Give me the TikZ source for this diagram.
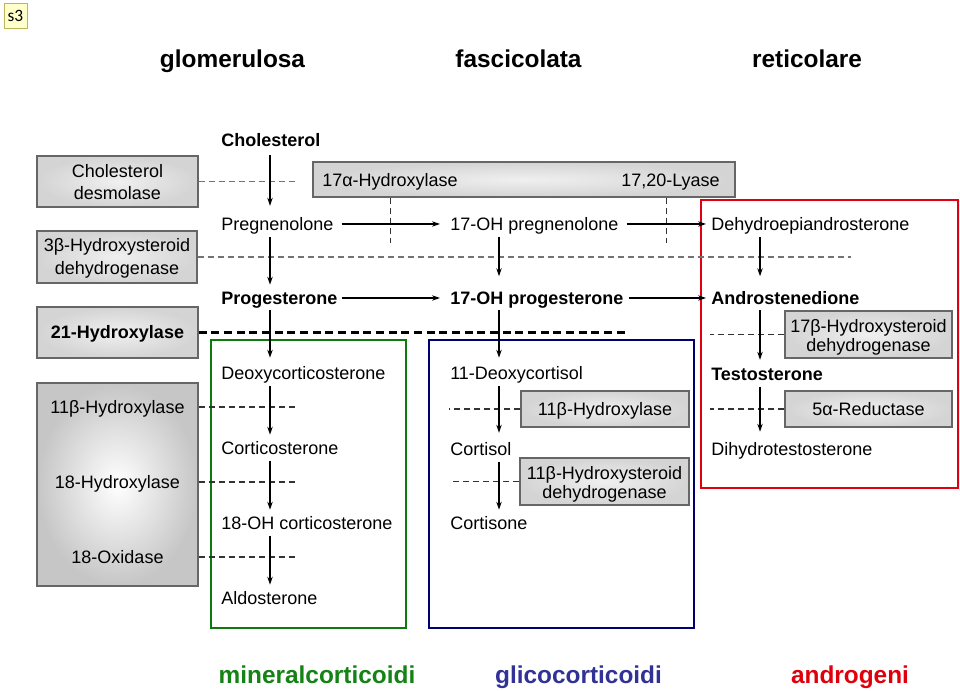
\documentclass[tikz,border=0pt]{standalone}
\usepackage{fontspec}
\setmainfont{Liberation Sans}
\newfontfamily\sthreefont{Carlito}
\usetikzlibrary{arrows.meta,fit}
\definecolor{zgreen}{RGB}{12,122,12}
\definecolor{tgreen}{RGB}{20,130,20}
\definecolor{zblue}{RGB}{0,0,115}
\definecolor{tblue}{RGB}{50,50,150}
\definecolor{zred}{RGB}{225,0,15}
\definecolor{tred}{RGB}{222,0,10}
\definecolor{sfill}{RGB}{255,255,204}
\definecolor{sdraw}{RGB}{190,180,90}
\begin{document}
\begin{tikzpicture}[x=0.75pt,y=-0.75pt,
  sp/.style={anchor=west,inner sep=0pt,text height=9.7pt,text depth=0pt,font=\fontsize{13.5}{16.5}\selectfont},
  spb/.style={sp,font=\fontsize{13.5}{16.5}\selectfont\bfseries},
  lab/.style={inner sep=0pt,text height=9.7pt,text depth=0pt,font=\fontsize{13.5}{16.5}\selectfont},
  ebox/.style={draw=black!60,line width=0.8pt,inner color=gray!12,outer color=gray!34,inner sep=0pt},
  zone/.style={line width=1.9pt,inner sep=0pt},
  varr/.style={line width=1.1pt,-{Stealth[length=6pt,width=4pt]},shorten <=4.5pt,shorten >=4.9pt},
  harr/.style={line width=0.9pt,-{Stealth[length=6pt,width=4pt]}},
  gdash/.style={draw=black!55,line width=0.8pt,dash pattern=on 4.5pt off 3pt},
  kdash/.style={draw=black!80,line width=0.8pt,dash pattern=on 4.5pt off 3pt},
  bdash/.style={line width=1.9pt,dash pattern=on 6pt off 3.5pt},
  ttl/.style={anchor=base,inner sep=0pt,font=\fontsize{18.3}{20}\selectfont\bfseries},
]
\useasboundingbox (0,0) rectangle (960,691);

% s3 tag
\node[draw=sdraw,fill=sfill,inner sep=0pt,minimum width=17.25pt,minimum height=18.75pt,
      font=\sthreefont\fontsize{13}{15}\selectfont] (s3) at (15.5,15.5) {s3};

% titles
\node[ttl] (tglo) at (232.5,68) {glomerulosa};
\node[ttl] (tfas) at (518.5,68) {fascicolata};
\node[ttl] (tret) at (807,68) {reticolare};

% zones
\node[zone,draw=zgreen,fit={(211,340)(406,628)}] (zmin) {};
\node[zone,draw=zblue,fit={(429,340)(694,628)}] (zgli) {};
\node[zone,draw=zred,fit={(701,200)(958,488)}] (zand) {};

% enzyme boxes
\node[ebox,fit={(37,156)(198,207)}] (desm) {};
\node[lab] (desmA) at (117.5,171) {Cholesterol};
\node[lab] (desmB) at (117.5,193) {desmolase};

\node[ebox,fit={(313,162)(735,197)}] (hyd17) {};
\node[lab,anchor=west] (h17a) at (322,180) {17α-Hydroxylase};
\node[lab,anchor=east] (h17b) at (720,180) {17,20-Lyase};

\node[ebox,fit={(37,231)(197,283)}] (hsd3) {};
\node[lab] (hsd3A) at (117,245) {3β-Hydroxysteroid};
\node[lab] (hsd3B) at (117,268) {dehydrogenase};

\node[ebox,fit={(37,307)(198,358)}] (hyd21) {};
\node[lab,font=\fontsize{13.5}{16.5}\selectfont\bfseries] (hyd21A) at (117.5,332) {21-Hydroxylase};

\node[ebox,fit={(37,383)(198,586)},inner color=white,outer color=gray!45] (big) {};
\node[lab] (bigA) at (117.5,407) {11β-Hydroxylase};
\node[lab] (bigB) at (117.5,482) {18-Hydroxylase};
\node[lab] (bigC) at (117.5,557) {18-Oxidase};

\node[ebox,fit={(521,391)(689,427)}] (hyd11b) {};
\node[lab] (hyd11bA) at (605,409) {11β-Hydroxylase};

\node[ebox,fit={(520,458)(689,505)}] (hsd11) {};
\node[lab] (hsd11A) at (604.5,473) {11β-Hydroxysteroid};
\node[lab] (hsd11B) at (604.5,492) {dehydrogenase};

\node[ebox,fit={(785,311)(952,358)}] (hsd17) {};
\node[lab] (hsd17A) at (868.5,326) {17β-Hydroxysteroid};
\node[lab] (hsd17B) at (868.5,345) {dehydrogenase};

\node[ebox,fit={(785,391)(952,427)}] (red5a) {};
\node[lab] (red5aA) at (868.5,409) {5α-Reductase};

% dashed enzyme lines
\draw[gdash] (desm.east) -- ++(97,0);
\draw[gdash] (hsd3.east) -- ++(653,0);
\draw[bdash] (hyd21.east) -- ++(427,0);
\draw[kdash] (bigA -| big.east) -- ++(97,0);
\draw[kdash] (bigB -| big.east) -- ++(97,0);
\draw[kdash] (bigC -| big.east) -- ++(97,0);
\draw[kdash] ([xshift=58.5pt]hyd17.south west) -- ++(0,45);
\draw[kdash] ([xshift=265.5pt]hyd17.south west) -- ++(0,45);
\draw[kdash] (hyd11b.west) -- ++(-71,0);
\draw[kdash] (hsd11.west) -- ++(-70,0);
\draw[kdash] (hsd17.west) -- ++(-74,0);
\draw[kdash] (red5a.west) -- ++(-74,0);

% species
\node[spb] (chol) at (221,140) {Cholesterol};
\node[sp] (preg) at (221,224) {Pregnenolone};
\node[sp] (ohpreg) at (450,224) {17-OH pregnenolone};
\node[sp] (dhea) at (711,224) {Dehydroepiandrosterone};
\node[spb] (prog) at (221,298) {Progesterone};
\node[spb] (ohprog) at (450,298) {17-OH progesterone};
\node[spb] (andro) at (711,298) {Androstenedione};
\node[sp] (doc) at (221,373) {Deoxycorticosterone};
\node[sp] (cortico) at (221,448) {Corticosterone};
\node[sp] (ohcort) at (221,523) {18-OH corticosterone};
\node[sp] (aldo) at (221,598) {Aldosterone};
\node[sp] (dcortisol) at (450,373) {11-Deoxycortisol};
\node[sp] (cortisol) at (450,449) {Cortisol};
\node[sp] (cortisone) at (450,523) {Cortisone};
\node[spb] (testo) at (711,374) {Testosterone};
\node[sp] (dht) at (711,449) {Dihydrotestosterone};

% vertical arrows
\draw[varr,shorten <=6.4pt,shorten >=8.6pt] ([xshift=36.75pt]chol.south west) -- ([xshift=36.75pt]preg.north west);
\draw[varr,shorten <=4.9pt,shorten >=4.9pt] ([xshift=36.75pt]preg.south west) -- ([xshift=36.75pt]prog.north west);
\draw[varr,shorten <=4.9pt,shorten >=11.25pt] ([xshift=36.75pt]ohpreg.south west) -- ([xshift=36.75pt]ohprog.north west);
\draw[varr,shorten <=4.9pt,shorten >=11.25pt] ([xshift=36.75pt]dhea.south west) -- ([xshift=36.75pt]andro.north west);
\draw[varr,shorten <=4.1pt,shorten >=6.4pt] ([xshift=36.75pt]prog.south west) -- ([xshift=36.75pt]doc.north west);
\draw[varr,shorten <=4.1pt,shorten >=6.4pt] ([xshift=36.75pt]ohprog.south west) -- ([xshift=36.75pt]dcortisol.north west);
\draw[varr,shorten <=4.1pt,shorten >=5.6pt] ([xshift=36.75pt]andro.south west) -- ([xshift=36.75pt]testo.north west);
\draw[varr] ([xshift=36.75pt]doc.south west) -- ([xshift=36.75pt]cortico.north west);
\draw[varr] ([xshift=36.75pt]cortico.south west) -- ([xshift=36.75pt]ohcort.north west);
\draw[varr] ([xshift=36.75pt]ohcort.south west) -- ([xshift=36.75pt]aldo.north west);
\draw[varr,shorten >=7.1pt] ([xshift=36.75pt]dcortisol.south west) -- ([xshift=36.75pt]cortisol.north west);
\draw[varr] ([xshift=36.75pt]cortisol.south west) -- ([xshift=36.75pt]cortisone.north west);
\draw[varr,shorten >=7.9pt] ([xshift=36.75pt]testo.south west) -- ([xshift=36.75pt]dht.north west);

% horizontal arrows
\draw[harr,shorten <=6pt,shorten >=7.5pt] (preg.east) -- (ohpreg.west);
\draw[harr,shorten <=6pt,shorten >=3.75pt] (ohpreg.east) -- (dhea.west);
\draw[harr,shorten <=3pt,shorten >=7.5pt] (prog.east) -- (ohprog.west);
\draw[harr,shorten <=3.75pt,shorten >=3.75pt] (ohprog.east) -- (andro.west);

% bottom labels
\node[ttl,text=tgreen] (lmin) at (317,683) {mineralcorticoidi};
\node[ttl,text=tblue] (lgli) at (578.5,683) {glicocorticoidi};
\node[ttl,text=tred] (land) at (850,683) {androgeni};
\end{tikzpicture}
\end{document}
